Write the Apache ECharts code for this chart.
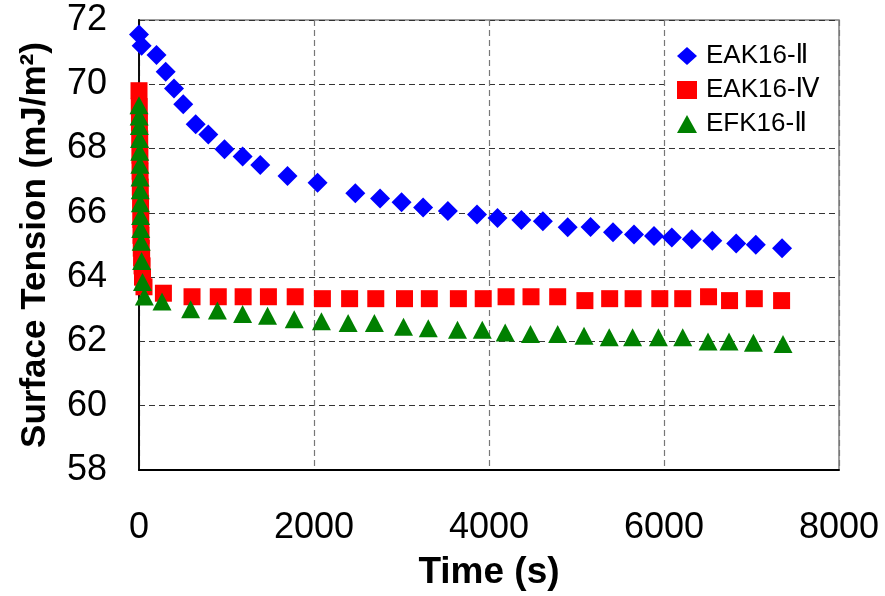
<!DOCTYPE html>
<html>
<head>
<meta charset="utf-8">
<script src="https://cdn.jsdelivr.net/npm/echarts@6/dist/echarts.min.js"></script>
<style>
  html, body { margin: 0; padding: 0; background: #fff; }
  #chart { width: 885px; height: 596px; }
</style>
</head>
<body>
<div id="chart"></div>
<script>
// Surface tension vs. time for three peptide solutions
const seriesNames = ['EAK16-Ⅱ', 'EAK16-Ⅳ', 'EFK16-Ⅱ'];

const eak2Time = [0, 30, 200, 305, 400, 506, 648, 792, 977, 1184, 1386, 1697, 2041, 2472, 2755, 3001, 3247, 3530, 3863, 4097, 4370, 4616, 4899, 5161, 5417, 5657, 5886, 6089, 6318, 6552, 6825, 7049, 7349];
const eak2Value = [71.55, 71.2, 70.91, 70.39, 69.87, 69.38, 68.76, 68.44, 67.98, 67.75, 67.49, 67.15, 66.94, 66.61, 66.45, 66.33, 66.17, 66.06, 65.95, 65.84, 65.78, 65.74, 65.55, 65.56, 65.40, 65.33, 65.28, 65.23, 65.18, 65.13, 65.05, 65.01, 64.90];

const eak4Time = [0, 3, 5, 8, 10, 12, 15, 18, 20, 23, 26, 30, 35, 40, 57, 279, 606, 906, 1190, 1479, 1785, 2096, 2407, 2706, 3034, 3318, 3650, 3934, 4195, 4480, 4785, 5096, 5379, 5647, 5952, 6214, 6509, 6749, 7032, 7344];
const eak4Value = [69.8, 69.3, 68.8, 68.3, 67.8, 67.3, 66.8, 66.3, 65.8, 65.3, 64.9, 64.6, 64.35, 64.0, 63.7, 63.50, 63.39, 63.39, 63.39, 63.39, 63.39, 63.33, 63.33, 63.33, 63.33, 63.33, 63.33, 63.33, 63.39, 63.39, 63.39, 63.27, 63.33, 63.33, 63.33, 63.33, 63.39, 63.27, 63.33, 63.27];

const efk2Time = [0, 2, 4, 6, 8, 10, 12, 14, 16, 18, 20, 25, 30, 40, 61, 263, 590, 896, 1184, 1469, 1774, 2085, 2390, 2690, 3023, 3306, 3640, 3923, 4185, 4474, 4785, 5086, 5374, 5641, 5936, 6214, 6503, 6743, 7022, 7360];
const efk2Value = [69.35, 69.0, 68.7, 68.3, 67.9, 67.5, 67.1, 66.7, 66.3, 65.9, 65.5, 65.1, 64.5, 63.85, 63.4, 63.24, 63.0, 62.96, 62.85, 62.80, 62.69, 62.63, 62.57, 62.57, 62.46, 62.41, 62.36, 62.36, 62.28, 62.23, 62.23, 62.18, 62.13, 62.13, 62.13, 62.13, 62.0, 62.0, 61.96, 61.92];

const xTicks = { min: 0, max: 8000, interval: 2000 };
const yTicks = { min: 58, max: 72, interval: 2 };

const pairs = (xs, ys) => xs.map((x, i) => [x, ys[i]]);

const FONT = '"Liberation Sans", Arial, "DejaVu Sans", sans-serif';
const dashed = { type: [6, 4], width: 1.2 };

const chart = echarts.init(document.getElementById('chart'));
chart.setOption({
  animation: false,
  backgroundColor: '#ffffff',
  textStyle: { fontFamily: FONT },
  grid: {
    left: 139, top: 20, width: 700, height: 450,
    show: true, borderColor: '#808080', borderWidth: 1.5, backgroundColor: 'transparent'
  },
  legend: {
    orient: 'vertical',
    left: 666, top: 30,
    padding: [13, 18, 6, 11],
    backgroundColor: '#ffffff',
    itemWidth: 20, itemHeight: 18, itemGap: 8,
    textStyle: { fontSize: 26, color: '#000', fontFamily: FONT, padding: [0, 0, 0, 4] },
    data: seriesNames
  },
  xAxis: {
    type: 'value',
    min: xTicks.min, max: xTicks.max, interval: xTicks.interval,
    name: 'Time (s)', nameLocation: 'middle', nameGap: 84,
    nameTextStyle: { fontSize: 37, fontWeight: 'bold', color: '#000', fontFamily: FONT },
    axisLine: { show: true, onZero: false, lineStyle: { color: '#000', width: 1.8 } },
    axisTick: { show: false },
    axisLabel: { fontSize: 36, color: '#000', margin: 40, fontFamily: FONT, formatter: v => String(v) },
    splitLine: { show: true, lineStyle: Object.assign({ color: '#777' }, dashed) }
  },
  yAxis: {
    type: 'value',
    min: yTicks.min, max: yTicks.max, interval: yTicks.interval,
    name: 'Surface Tension (mJ/m²)', nameLocation: 'middle', nameGap: 86,
    nameTextStyle: { fontSize: 35, fontWeight: 'bold', color: '#000', fontFamily: FONT },
    axisLine: { show: true, onZero: false, lineStyle: { color: '#000', width: 1.8 } },
    axisTick: { show: false },
    axisLabel: { fontSize: 36, color: '#000', margin: 32, fontFamily: FONT },
    splitLine: { show: true, lineStyle: Object.assign({ color: '#333' }, dashed) }
  },
  series: [
    {
      name: seriesNames[0], type: 'scatter', symbol: 'diamond', symbolSize: [20, 20],
      itemStyle: { color: '#0000ff', opacity: 1 }, data: pairs(eak2Time, eak2Value)
    },
    {
      name: seriesNames[1], type: 'scatter', symbol: 'rect', symbolSize: [17, 17],
      itemStyle: { color: '#ff0000', opacity: 1 }, data: pairs(eak4Time, eak4Value)
    },
    {
      name: seriesNames[2], type: 'scatter', symbol: 'triangle', symbolSize: [19, 18],
      itemStyle: { color: '#008000', opacity: 1 }, data: pairs(efk2Time, efk2Value)
    }
  ]
});
</script>
</body>
</html>
